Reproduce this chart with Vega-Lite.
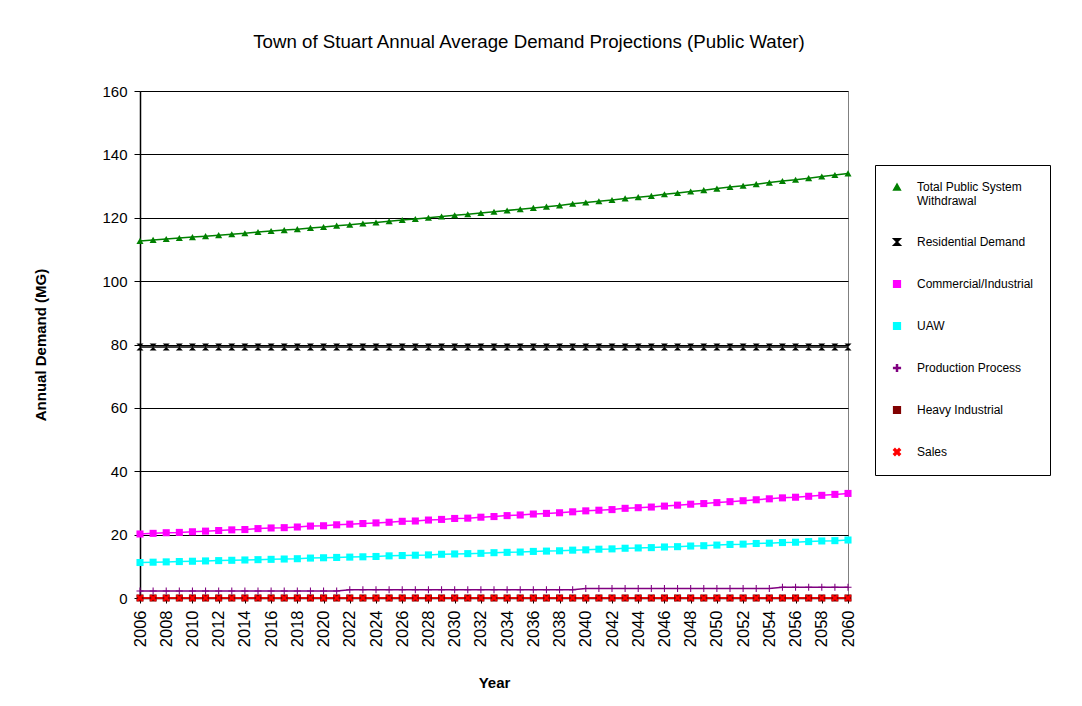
{
  "$schema": "https://vega.github.io/schema/vega-lite/v6.json",
  "width": 708,
  "height": 507,
  "autosize": {"type": "none"},
  "padding": {"left": 140, "top": 91, "right": 234, "bottom": 108},
  "background": "white",
  "title": {
    "text": "Town of Stuart Annual Average Demand Projections (Public Water)",
    "anchor": "middle",
    "frame": "group",
    "dx": 35,
    "offset": 32,
    "font": "Liberation Sans",
    "fontSize": 18.7,
    "fontWeight": "normal",
    "color": "black"
  },
  "config": {
    "font": "Liberation Sans",
    "view": {"stroke": "#808080", "strokeWidth": 1},
    "axis": {
      "labelFont": "Liberation Sans",
      "labelFontSize": 15,
      "labelColor": "black",
      "titleFont": "Liberation Sans",
      "titleFontSize": 15,
      "titleFontWeight": "bold",
      "titleColor": "black",
      "domainColor": "black",
      "tickColor": "black",
      "domainWidth": 1.5,
      "tickWidth": 1
    },
    "legend": {
      "labelFont": "Liberation Sans",
      "labelFontSize": 12,
      "labelColor": "black"
    }
  },
  "data": {
    "values": [
      {"Year": 2006, "T": 112.7, "R": 79.2, "C": 20.2, "U": 11.2, "P": 2.2, "H": 0, "S": 0},
      {"Year": 2007, "T": 113.0, "R": 79.2, "C": 20.4, "U": 11.3, "P": 2.2, "H": 0, "S": 0},
      {"Year": 2008, "T": 113.3, "R": 79.2, "C": 20.6, "U": 11.4, "P": 2.2, "H": 0, "S": 0},
      {"Year": 2009, "T": 113.6, "R": 79.2, "C": 20.7, "U": 11.5, "P": 2.2, "H": 0, "S": 0},
      {"Year": 2010, "T": 113.9, "R": 79.2, "C": 20.9, "U": 11.6, "P": 2.2, "H": 0, "S": 0},
      {"Year": 2011, "T": 114.2, "R": 79.2, "C": 21.1, "U": 11.7, "P": 2.2, "H": 0, "S": 0},
      {"Year": 2012, "T": 114.5, "R": 79.2, "C": 21.3, "U": 11.8, "P": 2.2, "H": 0, "S": 0},
      {"Year": 2013, "T": 114.8, "R": 79.2, "C": 21.5, "U": 11.9, "P": 2.2, "H": 0, "S": 0},
      {"Year": 2014, "T": 115.1, "R": 79.2, "C": 21.6, "U": 12.0, "P": 2.2, "H": 0, "S": 0},
      {"Year": 2015, "T": 115.5, "R": 79.2, "C": 21.9, "U": 12.1, "P": 2.2, "H": 0, "S": 0},
      {"Year": 2016, "T": 115.8, "R": 79.2, "C": 22.1, "U": 12.2, "P": 2.2, "H": 0, "S": 0},
      {"Year": 2017, "T": 116.1, "R": 79.2, "C": 22.2, "U": 12.3, "P": 2.2, "H": 0, "S": 0},
      {"Year": 2018, "T": 116.4, "R": 79.2, "C": 22.4, "U": 12.4, "P": 2.2, "H": 0, "S": 0},
      {"Year": 2019, "T": 116.8, "R": 79.2, "C": 22.7, "U": 12.6, "P": 2.2, "H": 0, "S": 0},
      {"Year": 2020, "T": 117.1, "R": 79.2, "C": 22.8, "U": 12.7, "P": 2.2, "H": 0, "S": 0},
      {"Year": 2021, "T": 117.5, "R": 79.2, "C": 23.1, "U": 12.8, "P": 2.2, "H": 0, "S": 0},
      {"Year": 2022, "T": 117.8, "R": 79.2, "C": 23.3, "U": 12.9, "P": 2.6, "H": 0, "S": 0},
      {"Year": 2023, "T": 118.2, "R": 79.2, "C": 23.5, "U": 13.0, "P": 2.6, "H": 0, "S": 0},
      {"Year": 2024, "T": 118.5, "R": 79.2, "C": 23.7, "U": 13.1, "P": 2.6, "H": 0, "S": 0},
      {"Year": 2025, "T": 118.9, "R": 79.2, "C": 23.9, "U": 13.3, "P": 2.6, "H": 0, "S": 0},
      {"Year": 2026, "T": 119.3, "R": 79.2, "C": 24.2, "U": 13.4, "P": 2.6, "H": 0, "S": 0},
      {"Year": 2027, "T": 119.6, "R": 79.2, "C": 24.3, "U": 13.5, "P": 2.6, "H": 0, "S": 0},
      {"Year": 2028, "T": 120.0, "R": 79.2, "C": 24.6, "U": 13.6, "P": 2.6, "H": 0, "S": 0},
      {"Year": 2029, "T": 120.4, "R": 79.2, "C": 24.8, "U": 13.8, "P": 2.6, "H": 0, "S": 0},
      {"Year": 2030, "T": 120.8, "R": 79.2, "C": 25.1, "U": 13.9, "P": 2.6, "H": 0, "S": 0},
      {"Year": 2031, "T": 121.1, "R": 79.2, "C": 25.2, "U": 14.0, "P": 2.6, "H": 0, "S": 0},
      {"Year": 2032, "T": 121.5, "R": 79.2, "C": 25.5, "U": 14.1, "P": 2.6, "H": 0, "S": 0},
      {"Year": 2033, "T": 121.9, "R": 79.2, "C": 25.7, "U": 14.3, "P": 2.6, "H": 0, "S": 0},
      {"Year": 2034, "T": 122.3, "R": 79.2, "C": 26.0, "U": 14.4, "P": 2.6, "H": 0, "S": 0},
      {"Year": 2035, "T": 122.7, "R": 79.2, "C": 26.2, "U": 14.5, "P": 2.6, "H": 0, "S": 0},
      {"Year": 2036, "T": 123.1, "R": 79.2, "C": 26.5, "U": 14.7, "P": 2.6, "H": 0, "S": 0},
      {"Year": 2037, "T": 123.5, "R": 79.2, "C": 26.7, "U": 14.8, "P": 2.6, "H": 0, "S": 0},
      {"Year": 2038, "T": 123.9, "R": 79.2, "C": 26.9, "U": 14.9, "P": 2.6, "H": 0, "S": 0},
      {"Year": 2039, "T": 124.4, "R": 79.2, "C": 27.2, "U": 15.1, "P": 2.6, "H": 0, "S": 0},
      {"Year": 2040, "T": 124.8, "R": 79.2, "C": 27.5, "U": 15.2, "P": 3.0, "H": 0, "S": 0},
      {"Year": 2041, "T": 125.2, "R": 79.2, "C": 27.7, "U": 15.4, "P": 3.0, "H": 0, "S": 0},
      {"Year": 2042, "T": 125.6, "R": 79.2, "C": 27.9, "U": 15.5, "P": 3.0, "H": 0, "S": 0},
      {"Year": 2043, "T": 126.1, "R": 79.2, "C": 28.3, "U": 15.7, "P": 3.0, "H": 0, "S": 0},
      {"Year": 2044, "T": 126.5, "R": 79.2, "C": 28.5, "U": 15.8, "P": 3.0, "H": 0, "S": 0},
      {"Year": 2045, "T": 126.9, "R": 79.2, "C": 28.7, "U": 15.9, "P": 3.0, "H": 0, "S": 0},
      {"Year": 2046, "T": 127.4, "R": 79.2, "C": 29.0, "U": 16.1, "P": 3.0, "H": 0, "S": 0},
      {"Year": 2047, "T": 127.8, "R": 79.2, "C": 29.3, "U": 16.2, "P": 3.0, "H": 0, "S": 0},
      {"Year": 2048, "T": 128.3, "R": 79.2, "C": 29.6, "U": 16.4, "P": 3.0, "H": 0, "S": 0},
      {"Year": 2049, "T": 128.7, "R": 79.2, "C": 29.8, "U": 16.5, "P": 3.0, "H": 0, "S": 0},
      {"Year": 2050, "T": 129.2, "R": 79.2, "C": 30.1, "U": 16.7, "P": 3.0, "H": 0, "S": 0},
      {"Year": 2051, "T": 129.7, "R": 79.2, "C": 30.4, "U": 16.9, "P": 3.0, "H": 0, "S": 0},
      {"Year": 2052, "T": 130.1, "R": 79.2, "C": 30.7, "U": 17.0, "P": 3.0, "H": 0, "S": 0},
      {"Year": 2053, "T": 130.6, "R": 79.2, "C": 31.0, "U": 17.2, "P": 3.0, "H": 0, "S": 0},
      {"Year": 2054, "T": 131.1, "R": 79.2, "C": 31.3, "U": 17.3, "P": 3.0, "H": 0, "S": 0},
      {"Year": 2055, "T": 131.6, "R": 79.2, "C": 31.6, "U": 17.5, "P": 3.4, "H": 0, "S": 0},
      {"Year": 2056, "T": 132.0, "R": 79.2, "C": 31.8, "U": 17.6, "P": 3.4, "H": 0, "S": 0},
      {"Year": 2057, "T": 132.5, "R": 79.2, "C": 32.1, "U": 17.8, "P": 3.4, "H": 0, "S": 0},
      {"Year": 2058, "T": 133.0, "R": 79.2, "C": 32.4, "U": 18.0, "P": 3.4, "H": 0, "S": 0},
      {"Year": 2059, "T": 133.5, "R": 79.2, "C": 32.7, "U": 18.1, "P": 3.4, "H": 0, "S": 0},
      {"Year": 2060, "T": 134.0, "R": 79.2, "C": 33.0, "U": 18.3, "P": 3.4, "H": 0, "S": 0}
    ]
  },
  "transform": [{"fold": ["T", "R", "C", "U", "P", "H", "S"], "as": ["k", "Demand"]}],
  "encoding": {
    "x": {
      "field": "Year",
      "type": "quantitative",
      "scale": {"domain": [2006, 2060], "nice": false, "zero": false},
      "axis": {
        "title": "Year",
        "values": [2006, 2008, 2010, 2012, 2014, 2016, 2018, 2020, 2022, 2024, 2026, 2028, 2030, 2032, 2034, 2036, 2038, 2040, 2042, 2044, 2046, 2048, 2050, 2052, 2054, 2056, 2058, 2060],
        "format": "d",
        "labelAngle": -90,
        "labelAlign": "right",
        "labelBaseline": "middle",
        "labelFontSize": 16.5,
        "grid": false,
        "tickSize": 5,
        "labelPadding": 7,
        "titlePadding": 29,
        "labelOverlap": false
      }
    },
    "y": {
      "field": "Demand",
      "type": "quantitative",
      "scale": {"domain": [0, 160], "nice": false},
      "axis": {
        "title": "Annual Demand (MG)",
        "values": [0, 20, 40, 60, 80, 100, 120, 140, 160],
        "grid": true,
        "gridColor": "black",
        "gridWidth": 1,
        "gridOpacity": 1,
        "tickSize": 6,
        "labelPadding": 7,
        "titlePadding": 53
      }
    },
    "color": {
      "field": "k",
      "type": "nominal",
      "sort": null,
      "scale": {
        "domain": ["T", "R", "C", "U", "P", "H", "S"],
        "range": ["#008000", "#000000", "#FF00FF", "#00FFFF", "#800080", "#800000", "#FF0000"]
      },
      "legend": {
        "title": null,
        "orient": "none",
        "legendX": 735,
        "legendY": 74,
        "strokeColor": "black",
        "fillColor": "white",
        "padding": 16,
        "rowPadding": 28,
        "symbolSize": 45,
        "labelOffset": 14,
        "labelLimit": 200,
        "labelExpr": "({'T': ['Total Public System', 'Withdrawal'], 'R': 'Residential Demand', 'C': 'Commercial/Industrial', 'U': 'UAW', 'P': 'Production Process', 'H': 'Heavy Industrial', 'S': 'Sales'})[datum.value]"
      }
    }
  },
  "layer": [
    {"mark": {"type": "line", "strokeWidth": 1.5}},
    {
      "mark": {"type": "point", "filled": true, "size": 50, "opacity": 1},
      "encoding": {
        "shape": {
          "field": "k",
          "type": "nominal",
          "sort": null,
          "scale": {
            "domain": ["T", "R", "C", "U", "P", "H", "S"],
            "range": [
              "triangle-up",
              "M-1,-1H1L-1,1H1Z",
              "square",
              "square",
              "M-0.15,-1H0.15V-0.15H1V0.15H0.15V1H-0.15V0.15H-1V-0.15H-0.15Z",
              "square",
              "M-1,-0.6L-0.6,-1L0,-0.4L0.6,-1L1,-0.6L0.4,0L1,0.6L0.6,1L0,0.4L-0.6,1L-1,0.6L-0.4,0Z"
            ]
          },
          "legend": {
            "title": null,
            "orient": "none",
            "legendX": 735,
            "legendY": 74,
            "strokeColor": "black",
            "fillColor": "white",
            "padding": 16,
            "rowPadding": 28,
            "symbolSize": 45,
            "labelOffset": 14,
            "labelLimit": 200,
            "labelExpr": "({'T': ['Total Public System', 'Withdrawal'], 'R': 'Residential Demand', 'C': 'Commercial/Industrial', 'U': 'UAW', 'P': 'Production Process', 'H': 'Heavy Industrial', 'S': 'Sales'})[datum.value]"
          }
        }
      }
    }
  ]
}
